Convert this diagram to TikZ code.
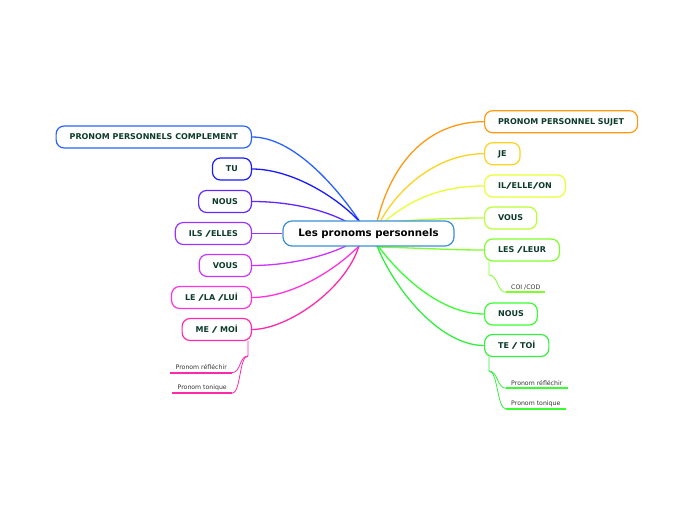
\documentclass[tikz,border=0pt]{standalone}
\usepackage{fontspec}
\usepackage{graphicx}
\setmainfont{DejaVu Sans}
\usetikzlibrary{backgrounds}
\definecolor{txt}{HTML}{0D3B2E}
\definecolor{subtxt}{HTML}{333333}
\definecolor{cCenter}{HTML}{3A8FD6}
\definecolor{cCompl}{HTML}{2A62FF}
\definecolor{cTu}{HTML}{1A1AFF}
\definecolor{cNousL}{HTML}{6028FF}
\definecolor{cIls}{HTML}{9933FF}
\definecolor{cVousL}{HTML}{CC33FF}
\definecolor{cLe}{HTML}{FF33DD}
\definecolor{cMe}{HTML}{FF2AAA}
\definecolor{cSujet}{HTML}{FF9A10}
\definecolor{cJe}{HTML}{FFD21F}
\definecolor{cIl}{HTML}{E8FF33}
\definecolor{cVousR}{HTML}{B8FF33}
\definecolor{cLes}{HTML}{7DFF2A}
\definecolor{cNousR}{HTML}{38FF30}
\definecolor{cTe}{HTML}{33F040}
\newcommand\myslash{\scalebox{1.9}[1]{/}}
\tikzset{
  topic/.style={draw, rounded corners=8bp, fill=white, line width=1.2bp,
    minimum height=22bp, inner xsep=13.5bp, inner ysep=0pt,
    font=\fontsize{8bp}{9bp}\selectfont\bfseries, text=txt,
    text height=5.8bp, text depth=0bp},
  conn/.style={line width=1.3bp},
  subn/.style={font=\fontsize{6.2bp}{7bp}\selectfont, text=subtxt,
    inner xsep=5bp, inner ysep=2.5bp},
  ul/.style={line width=1.8bp},
  subconn/.style={line width=0.8bp}
}
\begin{document}
\begin{tikzpicture}[x=1bp,y=-1bp]
\useasboundingbox (0,0) rectangle (697,520);
% center
\node[draw=cCenter, fill=white, rounded corners=9bp, line width=1.2bp,
  minimum height=25bp, minimum width=171bp, inner xsep=0pt,
  font=\fontsize{10.2bp}{12bp}\selectfont\bfseries] (c) at (368.5,233.5) {Les pronoms personnels};
% left topics
\node[topic, draw=cCompl, anchor=east] (compl) at (252,137) {PRONOM PERSONNELS COMPLEMENT};
\node[topic, draw=cTu, anchor=east] (tu) at (252,169) {TU};
\node[topic, draw=cNousL, anchor=east] (nousl) at (252,201.5) {NOUS};
\node[topic, draw=cIls, anchor=east] (ils) at (252,233.5) {ILS \myslash ELLES};
\node[topic, draw=cVousL, anchor=east] (vousl) at (252,265.5) {VOUS};
\node[topic, draw=cLe, anchor=east] (le) at (252,297.5) {LE \myslash LA \myslash LUİ};
\node[topic, draw=cMe, anchor=east] (me) at (252,329.5) {ME \myslash\ MOİ};
% right topics
\node[topic, draw=cSujet, anchor=west] (sujet) at (484,121.7) {PRONOM PERSONNEL SUJET};
\node[topic, draw=cJe, anchor=west] (je) at (484,153.7) {JE};
\node[topic, draw=cIl, anchor=west] (il) at (484,186) {IL\myslash ELLE\myslash ON};
\node[topic, draw=cVousR, anchor=west] (vousr) at (484,218) {VOUS};
\node[topic, draw=cLes, anchor=west] (les) at (484,250) {LES \myslash LEUR};
\node[topic, draw=cNousR, anchor=west] (nousr) at (484,314) {NOUS};
\node[topic, draw=cTe, anchor=west] (te) at (484,345.5) {TE \myslash\ TOİ};
% sub topics
\node[subn, anchor=south east] (lr) at (232,372.7) {Pronom réfléchir};
\node[subn, anchor=south east] (lt) at (232,393.3) {Pronom tonique};
\node[subn, anchor=south west] (coi) at (506,292.3) {COI /COD};
\node[subn, anchor=south west] (rr) at (506,388.3) {Pronom réfléchir};
\node[subn, anchor=south west] (rt) at (506,409) {Pronom tonique};
\coordinate (ctl) at (360,222);
\coordinate (ctlb) at (347,222);
\coordinate (cbl) at (359,246);
\coordinate (cblb) at (346,246);
\coordinate (ctr) at (377,222);
\coordinate (cbr) at (378,246);
\coordinate (mev) at (248,356);
\coordinate (lesv) at (489,275);
\coordinate (tev) at (489,371);
\begin{scope}[on background layer]
% left connectors
\draw[conn, cCompl] (compl.east) .. controls (293,137) and (336,186) .. (ctl);
\draw[conn, cTu] (tu.east) .. controls (290,169) and (335,195) .. (ctl);
\draw[conn, cNousL] (nousl.east) .. controls (290,201.5) and (325,210) .. (ctlb);
\draw[conn, cIls] (ils.east) -- (c.west);
\draw[conn, cVousL] (vousl.east) .. controls (290,265.5) and (325,256) .. (cblb);
\draw[conn, cLe] (le.east) .. controls (287,297.5) and (330,275) .. (cbl);
\draw[conn, cMe] (me.east) .. controls (287,329.5) and (345,290) .. (cbl);
% right connectors
\draw[conn, cSujet] (ctr) .. controls (392,160) and (430,121.7) .. (sujet.west);
\draw[conn, cJe] ([xshift=3bp]ctr) .. controls (400,185) and (440,153.7) .. (je.west);
\draw[conn, cIl] ([xshift=7bp]ctr) .. controls (410,200) and (440,186) .. (il.west);
\draw[conn, cVousR] ([xshift=5bp,yshift=-0.5bp]ctr) .. controls (420,219.5) and (450,218) .. (vousr.west);
\draw[conn, cLes] ([yshift=-1bp]cbr) .. controls (420,248) and (450,250) .. (les.west);
\draw[conn, cNousR] (cbr) .. controls (400,275) and (440,314) .. (nousr.west);
\draw[conn, cTe] ([xshift=-1bp]cbr) .. controls (395,290) and (440,345.5) .. (te.west);
% sub connectors
\draw[subconn, cMe] (mev |- me.south) -- (mev) .. controls +(-9,0) and +(9,0) .. (lr.south east);
\draw[subconn, cMe] (mev) .. controls +(-9,0) and +(9,0) .. (lt.south east);
\draw[subconn, cLes] (lesv |- les.south) -- (lesv) .. controls +(9,0) and +(-9,0) .. (coi.south west);
\draw[subconn, cTe] (tev |- te.south) -- (tev) .. controls +(9,0) and +(-9,0) .. (rr.south west);
\draw[subconn, cTe] (tev) .. controls +(9,0) and +(-9,0) .. (rt.south west);
\end{scope}
% underlines
\draw[ul, cMe] (lr.south west) -- (lr.south east);
\draw[ul, cMe] (lt.south west) -- (lt.south east);
\draw[ul, cLes] (coi.south west) -- (coi.south east);
\draw[ul, cNousR] (rr.south west) -- (rr.south east);
\draw[ul, cNousR] (rt.south west) -- (rt.south east);
\end{tikzpicture}
\end{document}
